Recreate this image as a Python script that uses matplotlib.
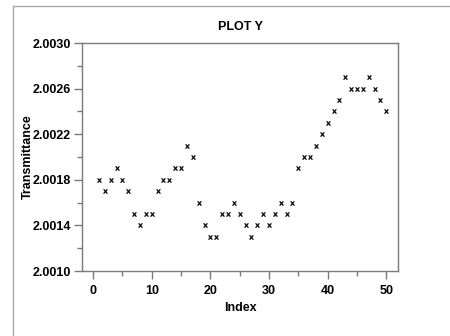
import matplotlib
matplotlib.use("Agg")
import matplotlib.pyplot as plt
from matplotlib.lines import Line2D
from matplotlib.ticker import FixedLocator

index = list(range(1, 51))
transmittance = [
    2.0018, 2.0017, 2.0018, 2.0019, 2.0018, 2.0017, 2.0015, 2.0014, 2.0015, 2.0015,
    2.0017, 2.0018, 2.0018, 2.0019, 2.0019, 2.0021, 2.0020, 2.0016, 2.0014, 2.0013,
    2.0013, 2.0015, 2.0015, 2.0016, 2.0015, 2.0014, 2.0013, 2.0014, 2.0015, 2.0014,
    2.0015, 2.0016, 2.0015, 2.0016, 2.0019, 2.0020, 2.0020, 2.0021, 2.0022, 2.0023,
    2.0024, 2.0025, 2.0027, 2.0026, 2.0026, 2.0026, 2.0027, 2.0026, 2.0025, 2.0024,
]
x_major = [0, 10, 20, 30, 40, 50]
x_minor = [5, 15, 25, 35, 45]
y_major = [2.0010, 2.0014, 2.0018, 2.0022, 2.0026, 2.0030]
y_minor = [2.0012, 2.0016, 2.0020, 2.0024, 2.0028]
y_labels = ['2.0010', '2.0014', '2.0018', '2.0022', '2.0026', '2.0030']

plt.rcParams['font.family'] = ['Liberation Sans', 'DejaVu Sans']
plt.rcParams['font.weight'] = 'bold'

W, H = 450, 336
fig = plt.figure(figsize=(W / 100, H / 100), dpi=100)
fig.patch.set_facecolor('white')

# page frame
fcol = '#a8a8a8'
fig.add_artist(Line2D([13 / W, 13 / W], [0, 1 - 6 / H], transform=fig.transFigure, color=fcol, lw=1))
fig.add_artist(Line2D([13 / W, 1], [1 - 6 / H, 1 - 6 / H], transform=fig.transFigure, color=fcol, lw=1))

left, right, top, bottom = 82, 398, 43, 271
ax = fig.add_axes([left / W, 1 - bottom / H, (right - left) / W, (bottom - top) / H])

gray = '#7a7a7a'
for s in ax.spines.values():
    s.set_color(gray)
    s.set_linewidth(1)

ax.plot(index, transmittance, linestyle='none', marker='$\\mathsf{x}$',
        markersize=3.2, color='black', markeredgewidth=0.2)

ax.set_xlim(-1.9, 52.0)
ax.set_ylim(2.0010, 2.0030)
ax.xaxis.set_major_locator(FixedLocator(x_major))
ax.xaxis.set_minor_locator(FixedLocator(x_minor))
ax.yaxis.set_major_locator(FixedLocator(y_major))
ax.yaxis.set_minor_locator(FixedLocator(y_minor))
ax.set_xticklabels([str(v) for v in x_major])
ax.set_yticklabels(y_labels)

ax.tick_params(which='major', direction='out', length=6, width=1, color=gray,
               labelsize=9, pad=2)
ax.tick_params(axis='x', which='major', pad=4)
ax.tick_params(which='minor', direction='out', length=3.5, width=1, color=gray)
for lab in ax.get_xticklabels() + ax.get_yticklabels():
    lab.set_fontweight('bold')

ax.set_title('PLOT Y', fontsize=9, fontweight='bold', pad=9)
ax.set_xlabel('Index', fontsize=9, fontweight='bold', labelpad=4)
ax.set_ylabel('Transmittance', fontsize=9, fontweight='bold', labelpad=-1)

fig.savefig('out.png', dpi=100)
